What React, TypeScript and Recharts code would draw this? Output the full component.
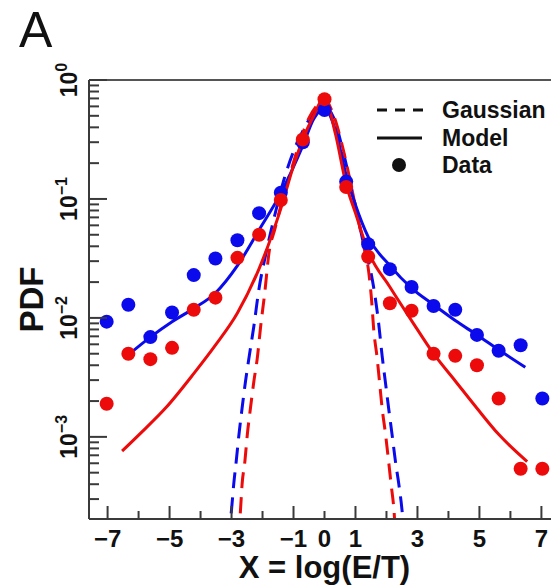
import React from "react";
import {
  ComposedChart,
  Line,
  Scatter,
  XAxis,
  YAxis,
  ReferenceLine,
} from "recharts";

// ---- data ----
const dataX = [-7.03, -6.33, -5.62, -4.92, -4.22, -3.52, -2.81, -2.11, -1.41, -0.7, 0, 0.7, 1.41, 2.11, 2.81, 3.52, 4.22, 4.92, 5.62, 6.33, 7.03];
const blueDataY = [9.3e-3, 1.29e-2, 6.9e-3, 1.11e-2, 2.29e-2, 3.16e-2, 4.5e-2, 7.6e-2, 0.113, 0.3, 0.56, 0.14, 0.0417, 0.0257, 0.0182, 0.0126, 0.0117, 7.2e-3, 5.3e-3, 5.9e-3, 2.1e-3];
const redDataY = [1.9e-3, 5.0e-3, 4.5e-3, 5.6e-3, 1.17e-2, 1.48e-2, 3.2e-2, 5.0e-2, 9.8e-2, 0.316, 0.69, 0.126, 0.0327, 0.0133, 0.0115, 5.0e-3, 4.8e-3, 4.0e-3, 2.1e-3, 5.4e-4, 5.4e-4];

const blueModelX = [-6.37, -5.62, -4.92, -4.22, -3.52, -2.81, -2.11, -1.41, -0.7, -0.35, 0, 0.35, 0.7, 1.0, 1.41, 2.11, 2.81, 3.52, 4.22, 4.92, 5.62, 6.48];
const blueModelY = [4.8e-3, 6.9e-3, 9.3e-3, 1.2e-2, 1.62e-2, 2.75e-2, 5.5e-2, 0.112, 0.28, 0.47, 0.575, 0.38, 0.158, 0.089, 0.048, 0.0275, 0.0178, 0.0129, 9.5e-3, 7.2e-3, 5.4e-3, 3.85e-3];

const redModelX = [-6.53, -5.94, -5.1, -4.22, -3.52, -2.81, -2.11, -1.41, -1.0, -0.7, -0.35, 0, 0.35, 0.7, 1.0, 1.41, 2.11, 2.81, 3.52, 4.22, 4.92, 5.62, 6.54];
const redModelY = [7.6e-4, 1.07e-3, 1.78e-3, 3.4e-3, 5.9e-3, 1.1e-2, 2.6e-2, 8.3e-2, 0.19, 0.316, 0.5, 0.71, 0.355, 0.132, 0.076, 0.0363, 0.0182, 9.5e-3, 5.0e-3, 2.95e-3, 1.74e-3, 1.05e-3, 6.2e-4];

const blueGaussX = [-3.1, -3.0, -2.93, -2.85, -2.76, -2.66, -2.55, -2.44, -2.28, -2.12, -1.9, -1.6, -1.3, -1.0, -0.6, -0.3, 0, 0.3, 0.6, 0.95, 1.3, 1.5, 1.65, 1.75, 1.86, 1.97, 2.07, 2.18, 2.29, 2.4, 2.5, 2.58];
const blueGaussY = [1.41e-4, 2.45e-4, 3.98e-4, 6.2e-4, 1.05e-3, 1.74e-3, 2.92e-3, 4.57e-3, 8.5e-3, 1.72e-2, 3.39e-2, 7.4e-2, 0.148, 0.251, 0.417, 0.55, 0.6, 0.479, 0.251, 0.1, 0.038, 0.024, 0.0141, 8.9e-3, 4.8e-3, 2.82e-3, 1.74e-3, 1.05e-3, 6.2e-4, 3.98e-4, 2.45e-4, 1.41e-4];

const redGaussX = [-2.78, -2.71, -2.66, -2.57, -2.49, -2.39, -2.28, -2.17, -2.06, -1.92, -1.8, -1.6, -1.4, -1.1, -0.8, -0.5, -0.2, 0, 0.3, 0.6, 0.95, 1.25, 1.43, 1.52, 1.59, 1.7, 1.78, 1.86, 1.97, 2.07, 2.15, 2.24, 2.3];
const redGaussY = [1.41e-4, 2.45e-4, 3.98e-4, 6.2e-4, 1.05e-3, 1.74e-3, 2.92e-3, 4.57e-3, 8.5e-3, 1.7e-2, 3.39e-2, 5.6e-2, 8.9e-2, 0.166, 0.3, 0.48, 0.63, 0.69, 0.5, 0.263, 0.1, 0.0417, 0.024, 0.0141, 7.9e-3, 4.57e-3, 2.82e-3, 1.74e-3, 1.05e-3, 6.2e-4, 3.98e-4, 2.45e-4, 1.41e-4];

const xTicks = [-7, -6, -5, -4, -3, -2, -1, 0, 1, 2, 3, 4, 5, 6, 7];
const xLabels = [-7, -5, -3, -1, 0, 1, 3, 5, 7];
const yMajor = [1e-3, 1e-2, 1e-1, 1];
const yMinorMult = [2, 3, 4, 5, 6, 7, 8, 9];
const yMinorDecades = [1e-4, 1e-3, 1e-2, 1e-1];

const legendItems = ["Gaussian", "Model", "Data"];

const BLUE = "#0a0aec";
const RED = "#ec0a0a";
const AXIS = "#3a3a3a";
const FONT = "'Liberation Sans', Arial, Helvetica, sans-serif";

const zip = (xs: number[], ys: number[]) => xs.map((x, i) => ({ x, y: ys[i] }));

const yTicks: number[] = [
  ...yMinorDecades.flatMap((d) => yMinorMult.map((m) => +(d * m).toPrecision(3))).filter((v) => v > 2.1e-4),
  ...yMajor,
].sort((a, b) => a - b);

const minusStr = (v: number) => (v < 0 ? "\u2212" + Math.abs(v) : String(v));

const YTick = (props: any) => {
  const { x, y, payload } = props;
  const v = payload.value as number;
  const lg = Math.log10(v);
  const rl = Math.round(lg);
  const major = Math.abs(lg - rl) < 1e-6;
  const len = major ? 18 : 10;
  return (
    <g>
      <line x1={x} x2={x + len} y1={y} y2={y} stroke={AXIS} strokeWidth={2} />
      {major && (
        <text
          transform={`translate(${x - 12},${y}) rotate(-90)`}
          textAnchor="middle"
          fontFamily={FONT}
          fontWeight="bold"
          fontSize={23}
          fill="#111"
        >
          <tspan>10</tspan>
          <tspan dy={-10} fontSize={16}>{minusStr(rl)}</tspan>
        </text>
      )}
    </g>
  );
};

const XTick = (props: any) => {
  const { x, y, payload } = props;
  const v = payload.value as number;
  const major = Math.abs(v) % 2 === 1;
  const len = major ? 13 : 8;
  return (
    <g>
      <line x1={x} x2={x} y1={y} y2={y - len} stroke={AXIS} strokeWidth={2} />
      {xLabels.includes(v) && (
        <text x={x} y={y + 28} textAnchor="middle" fontFamily={FONT} fontWeight="bold" fontSize={24} fill="#111">
          {minusStr(v)}
        </text>
      )}
    </g>
  );
};

export default function App() {
  return (
    <div style={{ position: "absolute", left: 0, top: 0, width: 551, height: 585, overflow: "hidden", background: "#fff" }}>
      <ComposedChart width={570} height={585} margin={{ top: 80, right: 10, bottom: 0, left: 0 }}>
        <XAxis
          type="number"
          dataKey="x"
          domain={[-7.6, 7.6]}
          allowDataOverflow
          ticks={xTicks}
          interval={0}
          tickSize={0}
          tickMargin={0}
          tickLine={false}
          tick={<XTick />}
          height={66}
          axisLine={{ stroke: AXIS, strokeWidth: 2 }}
          label={(p: any) => {
            const vb = p.viewBox;
            return (
              <text x={vb.x + vb.width / 2} y={578} textAnchor="middle" fontFamily={FONT} fontWeight="bold" fontSize={31} fill="#111">
                X = log(E/T)
              </text>
            );
          }}
        />
        <YAxis
          type="number"
          dataKey="y"
          scale="log"
          domain={[2.04e-4, 1]}
          allowDataOverflow
          ticks={yTicks}
          interval={0}
          tickSize={0}
          tickMargin={0}
          tickLine={false}
          tick={<YTick />}
          width={89}
          axisLine={{ stroke: AXIS, strokeWidth: 2 }}
          label={(p: any) => {
            const vb = p.viewBox;
            const cy = vb.y + vb.height / 2;
            return (
              <text transform={`translate(43,${cy}) rotate(-90)`} textAnchor="middle" fontFamily={FONT} fontWeight="bold" fontSize={33} fill="#111">
                PDF
              </text>
            );
          }}
        />
        <ReferenceLine y={1} stroke="#555" strokeWidth={2} />
        <ReferenceLine x={7.6} stroke="#555" strokeWidth={2} />
        <Line data={zip(blueGaussX, blueGaussY)} dataKey="y" type="monotone" stroke={BLUE} strokeWidth={3} strokeDasharray="16 9" dot={false} isAnimationActive={false} />
        <Line data={zip(redGaussX, redGaussY)} dataKey="y" type="monotone" stroke={RED} strokeWidth={3} strokeDasharray="16 9" dot={false} isAnimationActive={false} />
        <Line data={zip(blueModelX, blueModelY)} dataKey="y" type="monotone" stroke={BLUE} strokeWidth={3} dot={false} isAnimationActive={false} />
        <Line data={zip(redModelX, redModelY)} dataKey="y" type="monotone" stroke={RED} strokeWidth={3} dot={false} isAnimationActive={false} />
        <Scatter
          data={zip(dataX, blueDataY)}
          dataKey="y"
          fill={BLUE}
          isAnimationActive={false}
          shape={(p: any) => <circle cx={p.cx} cy={p.cy} r={7} fill={BLUE} />}
        />
        <Scatter
          data={zip(dataX, redDataY)}
          dataKey="y"
          fill={RED}
          isAnimationActive={false}
          shape={(p: any) => <circle cx={p.cx} cy={p.cy} r={7} fill={RED} />}
        />
      </ComposedChart>
      <svg width={551} height={585} style={{ position: "absolute", left: 0, top: 0, pointerEvents: "none" }}>
        <text x={19} y={47} fontFamily={FONT} fontSize={50} fill="#111">A</text>
        <line x1={377} x2={424} y1={110} y2={110} stroke="#111" strokeWidth={3} strokeDasharray="10 8" />
        <line x1={377} x2={422} y1={138} y2={138} stroke="#111" strokeWidth={3} />
        <circle cx={399} cy={165} r={7} fill="#111" />
        {legendItems.map((t, i) => (
          <text key={t} x={442} y={118 + i * 27.5} fontFamily={FONT} fontWeight="bold" fontSize={23} fill="#111">
            {t}
          </text>
        ))}
      </svg>
    </div>
  );
}
